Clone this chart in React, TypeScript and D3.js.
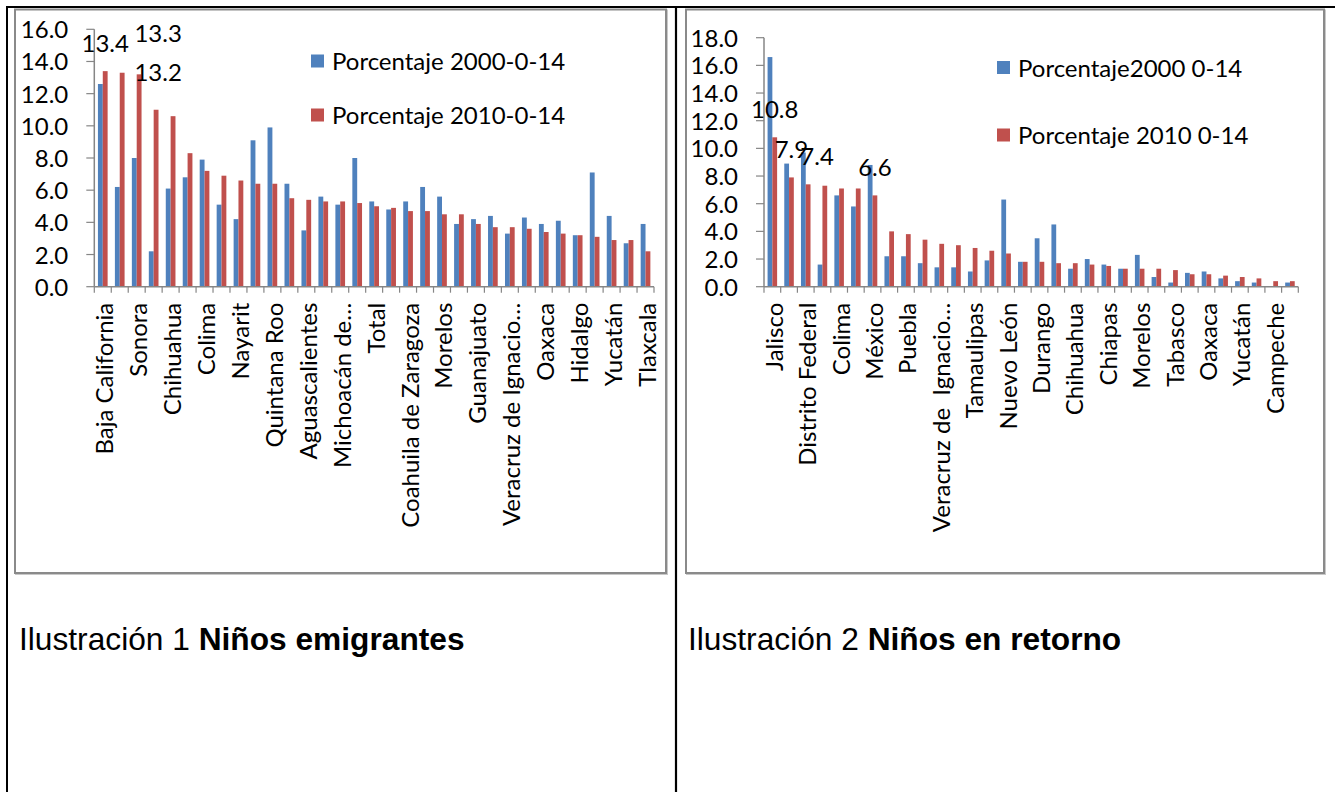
import React from "react";
import * as d3 from "d3";

// Niños emigrantes: percentage of emigrant children (0-14) by state, 2000 vs 2010
const emigrantStates = [
  "Baja California", "Tamaulipas", "Sonora", "Baja California Sur", "Chihuahua",
  "Durango", "Colima", "Sinaloa", "Nayarit", "Jalisco", "Quintana Roo",
  "Zacatecas", "Aguascalientes", "Nuevo León", "Michoacán de…", "Querétaro",
  "Total", "Campeche", "Coahuila de Zaragoza", "San Luis Potosí", "Morelos",
  "Guerrero", "Guanajuato", "México", "Veracruz de Ignacio…", "Distrito Federal",
  "Oaxaca", "Puebla", "Hidalgo", "Tabasco", "Yucatán", "Chiapas", "Tlaxcala",
];
const emigrant2000 = [
  12.6, 6.2, 8.0, 2.2, 6.1, 6.8, 7.9, 5.1, 4.2, 9.1, 9.9, 6.4, 3.5, 5.6, 5.1, 8.0,
  5.3, 4.8, 5.3, 6.2, 5.6, 3.9, 4.2, 4.4, 3.3, 4.3, 3.9, 4.1, 3.2, 7.1, 4.4, 2.7, 3.9,
];
const emigrant2010 = [
  13.4, 13.3, 13.2, 11.0, 10.6, 8.3, 7.2, 6.9, 6.6, 6.4, 6.4, 5.5, 5.4, 5.3, 5.3, 5.2,
  5.0, 4.9, 4.7, 4.7, 4.5, 4.5, 3.9, 3.7, 3.7, 3.6, 3.4, 3.3, 3.2, 3.1, 2.9, 2.9, 2.2,
];
const emigrantTicks = [0, 2, 4, 6, 8, 10, 12, 14, 16];
const emigrantLegend = ["Porcentaje 2000-0-14", "Porcentaje 2010-0-14"];
const emigrantLabeled = [0, 1, 2]; // 2010 bars carrying a value label

// Niños en retorno: percentage of returning children (0-14) by state, 2000 vs 2010
const returnStates = [
  "Jalisco", "Michoacán de Ocampo", "Distrito Federal", "Baja California", "Colima",
  "Guanajuato", "México", "Zacatecas", "Puebla", "San Luis Potosí",
  "Veracruz de  Ignacio…", "Aguascalientes", "Tamaulipas", "Hidalgo", "Nuevo León",
  "Querétaro", "Durango", "Sinaloa", "Chihuahua", "Nayarit", "Chiapas", "Guerrero",
  "Morelos", "Sonora", "Tabasco", "Coahuila de Zaragoza", "Oaxaca",
  "Baja California Sur", "Yucatán", "Tlaxcala", "Campeche", "Quintana Roo",
];
const return2000 = [
  16.6, 8.9, 9.7, 1.6, 6.6, 5.8, 8.8, 2.2, 2.2, 1.7, 1.4, 1.4, 1.1, 1.9, 6.3, 1.8,
  3.5, 4.5, 1.3, 2.0, 1.6, 1.3, 2.3, 0.7, 0.3, 1.0, 1.1, 0.6, 0.4, 0.3, 0.0, 0.3,
];
const return2010 = [
  10.8, 7.9, 7.4, 7.3, 7.1, 7.1, 6.6, 4.0, 3.8, 3.4, 3.1, 3.0, 2.8, 2.6, 2.4, 1.8,
  1.8, 1.7, 1.7, 1.6, 1.5, 1.3, 1.3, 1.3, 1.2, 0.9, 0.9, 0.8, 0.7, 0.6, 0.4, 0.4,
];
const returnTicks = [0, 2, 4, 6, 8, 10, 12, 14, 16, 18];
const returnLegend = ["Porcentaje2000 0-14", "Porcentaje 2010 0-14"];
const returnLabeled = [0, 1, 2, 6];

const BLUE = "#4F81BD";
const RED = "#C0504D";
const GRID = "#868686";
const FONT = "Lato, 'Open Sans', sans-serif";
const FS = 24;

type LabelNudge = { dx: number; dy: number };

type ChartProps = {
  box: { x: number; y: number; w: number; h: number };
  plot: { x0: number; x1: number; yTop: number; yBase: number };
  categories: string[];
  s2000: number[];
  s2010: number[];
  ticks: number[];
  legend: string[];
  legendPos: { x: number; y1: number; y2: number };
  labeled: number[];
  nudges: Record<number, LabelNudge>;
};

function BarChart(p: ChartProps) {
  const { plot } = p;
  const yMax = p.ticks[p.ticks.length - 1];
  const x = d3
    .scaleBand<number>()
    .domain(d3.range(p.categories.length))
    .range([plot.x0, plot.x1])
    .paddingInner(0)
    .paddingOuter(0);
  const y = d3.scaleLinear().domain([0, yMax]).range([plot.yBase, plot.yTop]);
  const band = x.bandwidth();
  const barW = band / 3.5; // gap width 150%
  const inner = d3
    .scaleBand<string>()
    .domain(["2000", "2010"])
    .range([band / 2 - barW, band / 2 + barW]);
  const fmt = d3.format(".1f");
  const boundaries = d3.range(p.categories.length + 1).map((i) => plot.x0 + i * band);

  return (
    <g>
      <rect x={p.box.x + 1} y={p.box.y + 1} width={p.box.w} height={p.box.h} fill="none" stroke="#c8c8c8" strokeWidth={2} />
      <rect x={p.box.x} y={p.box.y} width={p.box.w} height={p.box.h} fill="#fff" stroke="#8a8a8a" strokeWidth={2} />

      {/* bars */}
      {p.categories.map((_, i) => (
        <g key={i} transform={`translate(${x(i)},0)`}>
          <rect x={inner("2000")} y={y(p.s2000[i])} width={barW} height={plot.yBase - y(p.s2000[i])} fill={BLUE} />
          <rect x={inner("2010")} y={y(p.s2010[i])} width={barW} height={plot.yBase - y(p.s2010[i])} fill={RED} />
        </g>
      ))}

      {/* y axis */}
      <line x1={plot.x0} x2={plot.x0} y1={plot.yTop} y2={plot.yBase} stroke={GRID} strokeWidth={1.5} />
      {p.ticks.map((t) => (
        <g key={t}>
          <line x1={plot.x0 - 8} x2={plot.x0} y1={y(t)} y2={y(t)} stroke={GRID} strokeWidth={1.2} />
          <text x={plot.x0 - 26} y={y(t) + 9} textAnchor="end" fontFamily={FONT} fontSize={FS} fill="#000">
            {fmt(t)}
          </text>
        </g>
      ))}

      {/* x axis */}
      <line x1={plot.x0} x2={plot.x1} y1={plot.yBase} y2={plot.yBase} stroke={GRID} strokeWidth={1.5} />
      {boundaries.map((bx, i) => (
        <line key={i} x1={bx} x2={bx} y1={plot.yBase} y2={plot.yBase + 6} stroke={GRID} strokeWidth={1.2} />
      ))}
      {p.categories.map((c, i) =>
        i % 2 === 0 ? (
          <text
            key={c}
            transform={`translate(${(x(i) as number) + band / 2 + 1},${plot.yBase + 16}) rotate(-90)`}
            textAnchor="end"
            dominantBaseline="central"
            fontFamily={FONT}
            fontSize={FS}
            fill="#000"
            style={{ whiteSpace: "pre" }}
          >
            {c}
          </text>
        ) : null
      )}

      {/* value labels on 2010 bars */}
      {p.labeled.map((i) => {
        const n = p.nudges[i] || { dx: 0, dy: 0 };
        const cx = (x(i) as number) + (inner("2010") as number) + barW / 2;
        return (
          <text key={i} x={cx + n.dx} y={y(p.s2010[i]) - 19.5 + n.dy} textAnchor="middle" fontFamily={FONT} fontSize={FS} fill="#000">
            {fmt(p.s2010[i])}
          </text>
        );
      })}

      {/* legend */}
      {[BLUE, RED].map((col, k) => {
        const cy = k === 0 ? p.legendPos.y1 : p.legendPos.y2;
        return (
          <g key={col}>
            <rect x={p.legendPos.x} y={cy - 7} width={13} height={13} fill={col} />
            <text x={p.legendPos.x + 21} y={cy + 8.5} fontFamily={FONT} fontSize={FS} fill="#000">
              {p.legend[k]}
            </text>
          </g>
        );
      })}
    </g>
  );
}

export default function App() {
  return (
    <svg
      width={1335}
      height={792}
      style={{ position: "absolute", left: 0, top: 0, background: "#fff" }}
    >
      <rect x={0} y={0} width={1335} height={792} fill="#fff" />

      <BarChart
        box={{ x: 15, y: 9.5, w: 651, h: 563.5 }}
        plot={{ x0: 94.3, x1: 654, yTop: 29.3, yBase: 286.7 }}
        categories={emigrantStates}
        s2000={emigrant2000}
        s2010={emigrant2010}
        ticks={emigrantTicks}
        legend={emigrantLegend}
        legendPos={{ x: 311, y1: 61.5, y2: 115.5 }}
        labeled={emigrantLabeled}
        nudges={{ 1: { dx: 36, dy: -11 }, 2: { dx: 19, dy: 26 } }}
      />
      <BarChart
        box={{ x: 686, y: 9.5, w: 638, h: 563.5 }}
        plot={{ x0: 764, x1: 1298.3, yTop: 37.7, yBase: 286.7 }}
        categories={returnStates}
        s2000={return2000}
        s2010={return2010}
        ticks={returnTicks}
        legend={returnLegend}
        legendPos={{ x: 997, y1: 68, y2: 135.5 }}
        labeled={returnLabeled}
        nudges={{ 2: { dx: 9, dy: 0 } }}
      />

      {/* captions */}
      <text x={19} y={650} fontFamily="'Liberation Sans', Arial, sans-serif" fontSize={31.7} fill="#000">
        Ilustración 1 <tspan fontWeight="bold">Niños emigrantes</tspan>
      </text>
      <text x={688} y={650} fontFamily="'Liberation Sans', Arial, sans-serif" fontSize={31.7} fill="#000">
        Ilustración 2 <tspan fontWeight="bold">Niños en retorno</tspan>
      </text>

      {/* table rules */}
      <line x1={6} x2={1335} y1={7} y2={7} stroke="#000" strokeWidth={2} />
      <line x1={7} x2={7} y1={6} y2={792} stroke="#000" strokeWidth={2} />
      <line x1={676} x2={676} y1={6} y2={792} stroke="#000" strokeWidth={2.2} />
    </svg>
  );
}
